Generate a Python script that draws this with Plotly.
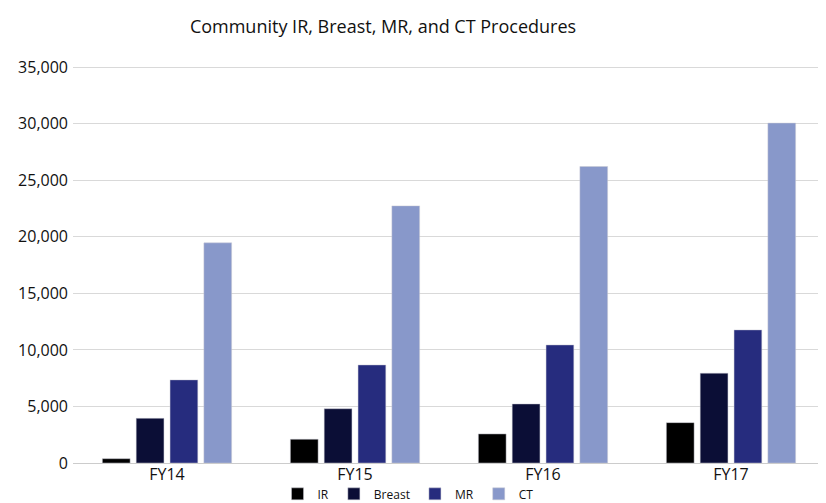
import plotly.graph_objects as go

categories = ["FY14", "FY15", "FY16", "FY17"]
ir = [380, 2100, 2570, 3570]
breast = [3950, 4800, 5220, 7940]
mr = [7350, 8670, 10440, 11770]
ct = [19470, 22740, 26220, 30060]
series_names = ["IR", "Breast", "MR", "CT"]
colors = ["#000000", "#0b0e36", "#262c7e", "#8898ca"]
tick_vals = [0, 5000, 10000, 15000, 20000, 25000, 30000, 35000]

# The page body has an 8px default margin, so the figure is sized to fit the window.
W, H = 818, 495

fig = go.Figure()
for name, vals, col in zip(series_names, [ir, breast, mr, ct], colors):
    fig.add_trace(go.Bar(
        name=name, x=categories, y=vals,
        marker=dict(color=col, line=dict(color="rgba(200,200,210,0.6)", width=0.8)),
    ))

fig.update_layout(
    width=W, height=H,
    margin=dict(l=65, r=1, t=57, b=40, autoexpand=False),
    paper_bgcolor="white", plot_bgcolor="white",
    font=dict(family="Open Sans, Noto Sans, sans-serif", color="#222222"),
    title=dict(text="Community IR, Breast, MR, and CT Procedures",
               x=375 / W, xanchor="center", xref="container",
               y=1 - 19 / H, yanchor="middle", yref="container",
               font=dict(size=18, color="#111111")),
    barmode="group", bargap=0.28, bargroupgap=0.18,
    showlegend=True,
    legend=dict(orientation="h", x=0.4455, xanchor="center",
                y=-0.0775, yanchor="middle",
                font=dict(size=12, color="#111111"), itemwidth=30,
                traceorder="normal", bgcolor="rgba(0,0,0,0)"),
    xaxis=dict(showgrid=False, showline=False, ticks="", automargin=False,
               tickfont=dict(size=16, color="#111111")),
    yaxis=dict(range=[0, 35200], tickvals=tick_vals, tickformat=",",
               automargin=False,
               showgrid=True, gridcolor="#d9d9d9", gridwidth=1.2,
               zeroline=True, zerolinecolor="#cccccc", zerolinewidth=1.2,
               tickfont=dict(size=16, color="#111111"), ticklabelstandoff=4),
)

fig.write_html("out.html")
